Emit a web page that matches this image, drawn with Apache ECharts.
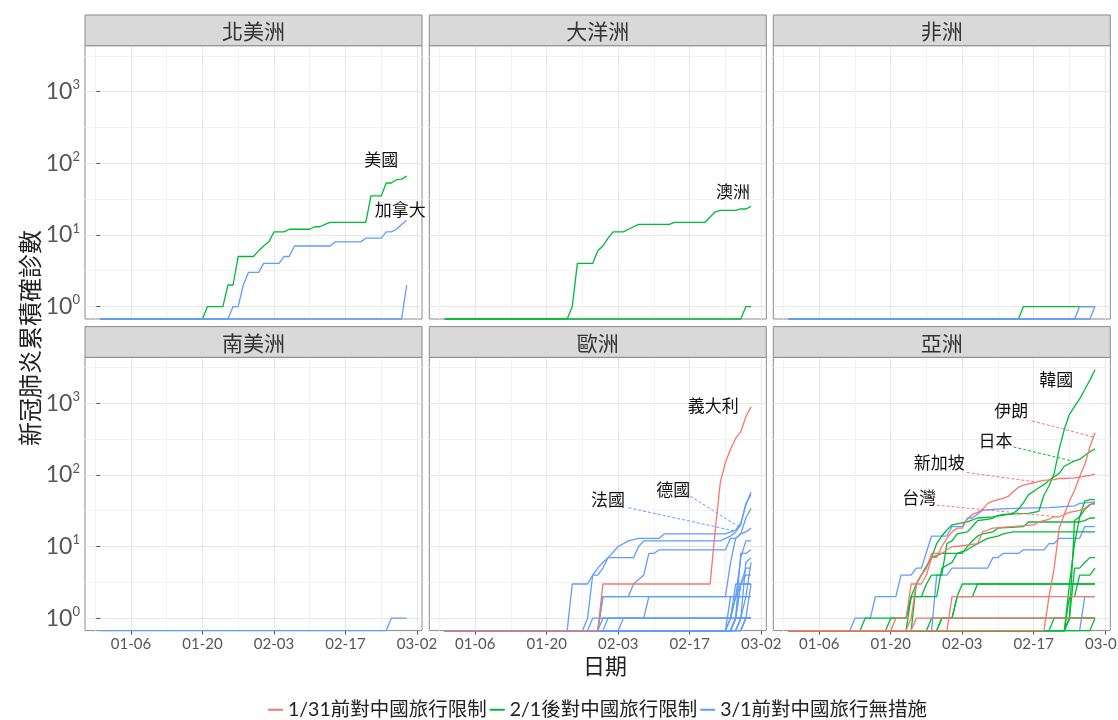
<!DOCTYPE html>
<html lang="zh-Hant">
<head>
<meta charset="utf-8">
<title>新冠肺炎累積確診數</title>
<script src="https://cdn.jsdelivr.net/npm/echarts@6.0.0/dist/echarts.min.js"></script>
<style>
  html, body { margin: 0; padding: 0; background: #fff; }
  #chart { width: 1118px; height: 720px; }
</style>
</head>
<body>
<div id="chart"></div>
<script>
// Day index: 0 = 2019-12-31 ... 60 = 2020-02-29. Points are [day, cumulative confirmed cases].
const xTickDays   = [6, 20, 34, 48, 62];
const xTickLabels = ['01-06', '01-20', '02-03', '02-17', '03-02'];
const xMinorDays  = [-1, 13, 27, 41, 55];
const yTickValues = [1, 10, 100, 1000];
const yMinorValues = [3.1623, 31.623, 316.23, 3162.3];

const regions = ['北美洲', '大洋洲', '非洲', '南美洲', '歐洲', '亞洲'];
const groups = ['1/31前對中國旅行限制', '2/1後對中國旅行限制', '3/1前對中國旅行無措施'];
const groupColors = ['#F8766D', '#00BA38', '#619CFF'];

// 北美洲
const usa = [[0,0],[20,0],[21,1],[24,1],[25,2],[26,2],[27,5],[30,5],[31,6],[32,7],[33,8],[34,11],[36,11],[37,12],[41,12],[42,13],[43,13],[44,14],[45,15],[52,15],[53,35],[55,35],[56,53],[57,53],[58,59],[59,60],[60,66]];
const canada = [[0,0],[25,0],[26,1],[27,1],[28,2],[29,3],[31,3],[32,4],[35,4],[36,5],[37,5],[38,7],[45,7],[46,8],[51,8],[52,9],[55,9],[56,11],[57,11],[58,12],[59,14],[60,16]];
const mexico = [[0,0],[59,0],[60,2]];

// 大洋洲
const australia = [[0,0],[24,0],[25,1],[26,4],[29,4],[30,6],[31,7],[32,9],[33,11],[35,11],[36,12],[37,13],[38,14],[44,14],[45,15],[51,15],[53,21],[54,22],[57,22],[58,23],[59,23],[60,25]];
const newZealand = [[0,0],[58,0],[59,1],[60,1]];

// 非洲
const egypt = [[0,0],[45,0],[46,1],[60,1]];
const algeria = [[0,0],[56,0],[57,1],[60,1]];
const nigeria = [[0,0],[59,0],[60,1]];

// 南美洲
const brazil = [[0,0],[56,0],[57,1],[60,1]];

// 歐洲
const italy = [[0,0],[30,0],[31,3],[52,3],[53,17],[54,79],[55,150],[56,229],[57,322],[58,400],[59,650],[60,888]];
const france = [[0,0],[24,0],[25,3],[28,3],[29,4],[30,5],[31,6],[32,7],[34,10],[36,12],[38,13],[42,13],[43,15],[55,15],[56,16],[57,17],[58,21],[59,38],[60,57]];
const germany = [[0,0],[27,0],[28,1],[29,4],[30,4],[31,5],[32,7],[37,7],[38,10],[39,12],[54,12],[55,13],[56,14],[57,16],[58,20],[59,40],[60,53]];
const uk = [[0,0],[30,0],[31,2],[36,2],[37,3],[39,4],[40,8],[41,8],[42,9],[55,9],[56,13],[57,13],[58,15],[59,16],[60,18]];
const spain = [[0,0],[31,0],[32,1],[39,1],[40,2],[55,2],[56,6],[57,13],[58,15],[59,25],[60,34]];
const russia = [[0,0],[30,0],[31,2],[60,2]];
const sweden = [[0,0],[30,0],[31,1],[56,1],[57,2],[58,7],[59,12],[60,12]];
const finland = [[0,0],[28,0],[29,1],[56,1],[57,2],[60,2]];
const belgium = [[0,0],[34,0],[35,1],[60,1]];
const switzerland = [[0,0],[55,0],[56,1],[57,1],[58,8],[59,8],[60,9]];
const norway = [[0,0],[56,0],[57,1],[58,1],[59,6],[60,7]];
const austria = [[0,0],[55,0],[56,2],[57,2],[58,3],[59,5],[60,5]];
const croatia = [[0,0],[55,0],[56,1],[57,3],[58,3],[59,4],[60,4]];
const greece = [[0,0],[56,0],[57,1],[58,3],[60,3]];
const netherlands = [[0,0],[57,0],[58,1],[59,2],[60,6]];
const romania = [[0,0],[56,0],[57,1],[58,3],[60,3]];
const denmark = [[0,0],[57,0],[58,1],[60,1]];
const georgia = [[0,0],[56,0],[57,1],[60,1]];
const northMacedonia = [[0,0],[56,0],[57,1],[60,1]];
const estonia = [[0,0],[57,0],[58,1],[60,1]];
const belarus = [[0,0],[58,0],[59,1],[60,1]];
const lithuania = [[0,0],[58,0],[59,1],[60,1]];
const azerbaijan = [[0,0],[58,0],[59,1],[60,3]];

// 亞洲
const korea = [[0,0],[19,0],[20,1],[23,1],[24,2],[26,2],[27,3],[28,4],[30,4],[31,11],[32,12],[33,15],[35,16],[36,19],[37,23],[39,24],[40,25],[41,27],[42,28],[47,29],[48,30],[49,31],[50,52],[51,70],[52,104],[53,230],[54,433],[55,700],[56,900],[57,1150],[58,1550],[59,2100],[60,2931]];
const japan = [[0,0],[14,0],[15,1],[23,1],[24,2],[25,3],[26,4],[28,7],[29,11],[30,14],[31,17],[32,20],[35,22],[37,25],[40,26],[43,28],[44,29],[45,33],[46,41],[47,53],[48,59],[49,66],[50,73],[51,84],[52,94],[53,105],[54,132],[55,144],[56,157],[57,164],[58,186],[59,210],[60,230]];
const singapore = [[0,0],[23,0],[24,1],[25,3],[26,3],[27,4],[28,7],[29,7],[30,10],[31,13],[32,16],[33,18],[34,18],[35,24],[36,28],[37,30],[38,33],[39,40],[40,43],[41,45],[42,47],[43,50],[44,58],[45,67],[46,72],[47,75],[48,77],[49,81],[50,84],[51,85],[52,86],[53,89],[54,89],[55,90],[56,91],[57,93],[58,96],[59,98],[60,102]];
const taiwan = [[0,0],[20,0],[21,1],[23,1],[24,3],[25,3],[26,4],[27,5],[28,8],[30,8],[31,9],[32,10],[33,10],[37,11],[38,16],[39,17],[40,18],[48,20],[49,22],[50,23],[51,24],[52,26],[53,26],[54,28],[55,30],[56,31],[57,32],[58,34],[59,39],[60,39]];
const iran = [[0,0],[50,0],[51,2],[52,5],[53,18],[54,28],[55,43],[56,61],[57,95],[58,139],[59,245],[60,388]];
const thailand = [[0,0],[12,0],[13,1],[16,1],[17,2],[21,2],[22,4],[24,4],[25,5],[26,5],[28,14],[31,14],[32,19],[34,19],[35,25],[36,25],[38,32],[40,33],[44,34],[51,35],[56,37],[57,40],[60,42]];
const uae = [[0,0],[28,0],[29,4],[31,4],[32,5],[39,5],[40,7],[41,7],[42,8],[45,8],[46,9],[50,9],[51,11],[52,11],[53,13],[57,13],[58,19],[60,19]];
const malaysia = [[0,0],[24,0],[25,3],[26,4],[28,7],[30,8],[34,8],[35,10],[36,12],[37,14],[38,15],[40,16],[41,18],[46,19],[47,22],[57,22],[58,23],[59,25],[60,25]];
const vietnam = [[0,0],[23,0],[24,2],[29,2],[30,5],[32,6],[33,8],[35,9],[36,10],[38,12],[39,13],[41,14],[42,15],[44,16],[60,16]];
const kuwait = [[0,0],[54,0],[55,3],[56,11],[57,26],[58,43],[59,45],[60,45]];
const bahrain = [[0,0],[54,0],[55,1],[56,23],[57,26],[58,33],[59,38],[60,41]];
const iraq = [[0,0],[54,0],[55,1],[56,5],[57,5],[58,6],[59,7],[60,7]];
const oman = [[0,0],[54,0],[55,2],[56,2],[57,4],[59,4],[60,5]];
const india = [[0,0],[29,0],[30,1],[32,1],[33,2],[34,3],[60,3]];
const philippines = [[0,0],[29,0],[30,1],[32,1],[33,2],[36,2],[37,3],[60,3]];
const nepal = [[0,0],[24,0],[25,1],[60,1]];
const sriLanka = [[0,0],[31,0],[32,2],[60,2]];
const cambodia = [[0,0],[27,0],[28,1],[60,1]];
const lebanon = [[0,0],[51,0],[52,1],[60,1]];
const afghanistan = [[0,0],[54,0],[55,1],[60,1]];
const qatar = [[0,0],[59,0],[60,1]];
const pakistan = [[0,0],[57,0],[58,2],[60,2]];

// [panel, travel-policy group, points]
const countries = [
  [0, 1, usa], [0, 2, canada], [0, 2, mexico],
  [1, 1, australia], [1, 1, newZealand],
  [2, 1, egypt], [2, 2, algeria], [2, 2, nigeria],
  [3, 2, brazil],
  [4, 2, france], [4, 2, germany], [4, 2, uk], [4, 2, spain], [4, 2, russia], [4, 2, sweden],
  [4, 2, finland], [4, 2, belgium], [4, 2, switzerland], [4, 2, norway], [4, 2, austria],
  [4, 2, croatia], [4, 2, greece], [4, 2, netherlands], [4, 2, romania], [4, 2, denmark],
  [4, 2, georgia], [4, 2, northMacedonia], [4, 2, estonia], [4, 2, belarus], [4, 2, lithuania],
  [4, 2, azerbaijan], [4, 0, italy],
  [5, 2, thailand], [5, 2, uae], [5, 2, pakistan],
  [5, 1, korea], [5, 1, japan], [5, 1, malaysia], [5, 1, vietnam], [5, 1, kuwait], [5, 1, bahrain],
  [5, 1, iraq], [5, 1, oman], [5, 1, india], [5, 1, philippines], [5, 1, cambodia], [5, 1, lebanon],
  [5, 1, afghanistan], [5, 1, qatar],
  [5, 0, singapore], [5, 0, taiwan], [5, 0, iran], [5, 0, nepal], [5, 0, sriLanka]
];

// Country name labels (data coordinates); optional dashed leader from `from` to the line at day `to`.
const annotations = [
  { on: usa,       text: '美國',   at: [55.0, 112] },
  { on: canada,    text: '加拿大', at: [58.75, 22.4] },
  { on: australia, text: '澳洲',   at: [56.5, 40] },
  { on: italy,     text: '義大利', at: [52.6, 938] },
  { on: germany,   text: '德國',   at: [44.8, 62.7], from: [48.1, 50.5], to: 57.7 },
  { on: france,    text: '法國',   at: [32.0, 45.4], from: [36.0, 34.8], to: 56.6 },
  { on: korea,     text: '韓國',   at: [52.4, 2168] },
  { on: iran,      text: '伊朗',   at: [43.6, 785], from: [47.7, 565], to: 59.7 },
  { on: japan,     text: '日本',   at: [40.5, 304], from: [44.05, 245], to: 55.8 },
  { on: singapore, text: '新加坡', at: [29.5, 150], from: [34.9, 108], to: 48.6 },
  { on: taiwan,    text: '台灣',   at: [25.6, 48.5], from: [29.0, 37.8], to: 52.6 }
];

// ---- scales (ggplot-style 5% expansion, log10 for counts) ----
const FONT = "Lato, 'Noto Sans CJK TC', 'Noto Sans', sans-serif";
let dayMax = 0, valMax = 1;
countries.forEach(([, , pts]) => pts.forEach(([d, v]) => { dayMax = Math.max(dayMax, d); valMax = Math.max(valMax, v); }));
const xPad = dayMax * 0.05;
const xMin = -xPad, xMax = dayMax + xPad;
const logPad = Math.log10(valMax) * 0.05;
const yMin = Math.pow(10, -logPad), yMax = Math.pow(10, Math.log10(valMax) + logPad);

// zero counts sit on the lower panel edge
const toPlot = v => (v > 0 ? v : yMin);

function valueAt(pts, day) {
  for (let i = 1; i < pts.length; i++) {
    if (day <= pts[i][0]) {
      const [d0, v0] = pts[i - 1], [d1, v1] = pts[i];
      const a = Math.log10(toPlot(v0)), b = Math.log10(toPlot(v1));
      return Math.pow(10, a + (b - a) * (day - d0) / (d1 - d0));
    }
  }
  return toPlot(pts[pts.length - 1][1]);
}

// ---- layout ----
const colLeft = [85, 429.3, 773.3];
const panelW = 337;
const rowTop = [45.7, 357.3];
const panelH = 273.3;
const stripH = 30.7;

const grids = [], xAxes = [], yAxes = [], graphics = [];
regions.forEach((name, p) => {
  const col = p % 3, row = Math.floor(p / 3);
  grids.push({
    left: colLeft[col], top: rowTop[row], width: panelW, height: panelH,
    show: true, backgroundColor: '#fff', borderColor: '#8a8a8a', borderWidth: 1,
    containLabel: false, outerBoundsMode: 'none'
  });
  const bottomRow = row === 1, leftCol = col === 0;
  xAxes.push({
    type: 'value', gridIndex: p, min: xMin, max: xMax,
    axisLine: { show: false },
    axisTick: { show: bottomRow, customValues: xTickDays, length: 4, lineStyle: { color: '#555', width: 1 } },
    axisLabel: {
      show: bottomRow, customValues: xTickDays, margin: 6,
      formatter: v => xTickLabels[xTickDays.indexOf(v)],
      color: '#555', fontSize: 15, fontFamily: FONT
    },
    splitLine: { show: true, lineStyle: { color: '#e6e6e6', width: 1 } }
  });
  xAxes.push({
    type: 'value', gridIndex: p, min: xMin, max: xMax, position: 'top',
    axisLine: { show: false }, axisLabel: { show: false },
    axisTick: { show: false, customValues: xMinorDays },
    splitLine: { show: true, lineStyle: { color: '#f2f2f2', width: 1 } }
  });
  yAxes.push({
    type: 'log', logBase: 10, gridIndex: p, min: yMin, max: yMax,
    axisLine: { show: false },
    axisTick: { show: leftCol, customValues: yTickValues, length: 4, lineStyle: { color: '#555', width: 1 } },
    axisLabel: {
      show: leftCol, customValues: yTickValues, margin: 5,
      formatter: v => '10{s|' + Math.round(Math.log10(v)) + '}',
      color: '#555', fontSize: 23, lineHeight: 26, fontFamily: FONT,
      rich: { s: { fontSize: 13, verticalAlign: 'top', color: '#555', fontFamily: FONT } }
    },
    splitLine: { show: true, lineStyle: { color: '#e6e6e6', width: 1 } }
  });
  yAxes.push({
    type: 'log', logBase: 10, gridIndex: p, min: yMin, max: yMax, position: 'right',
    axisLine: { show: false }, axisLabel: { show: false },
    axisTick: { show: false, customValues: yMinorValues },
    splitLine: { show: true, lineStyle: { color: '#f2f2f2', width: 1 } }
  });
  // facet strip
  const sx = colLeft[col], sy = rowTop[row] - stripH;
  graphics.push({
    type: 'rect', silent: true, z: 10,
    shape: { x: sx, y: sy, width: panelW, height: stripH },
    style: { fill: '#d9d9d9', stroke: '#8a8a8a', lineWidth: 1 }
  });
  graphics.push({
    type: 'text', silent: true, z: 11,
    style: { text: name, x: sx + panelW / 2, y: sy + stripH / 2 + 1, align: 'center', verticalAlign: 'middle',
             fill: '#333', font: "21px 'Noto Sans CJK TC', sans-serif" }
  });
});

graphics.push({
  type: 'text', silent: true,
  style: { text: '日期', x: 605, y: 666, align: 'center', verticalAlign: 'middle',
           fill: '#222', font: "22px 'Noto Sans CJK TC', sans-serif" }
});
graphics.push({
  type: 'text', silent: true, rotation: Math.PI / 2, x: 30, y: 338,
  style: { text: '新冠肺炎累積確診數', x: 0, y: 0, align: 'center', verticalAlign: 'middle',
           fill: '#222', font: "24px 'Noto Sans CJK TC', sans-serif" }
});

// ---- series ----
const series = countries.map(([p, g, pts], i) => ({
  type: 'line', id: 'c' + i, name: groups[g],
  xAxisIndex: 2 * p, yAxisIndex: 2 * p,
  data: pts.map(([d, v]) => [d, toPlot(v)]),
  showSymbol: false, symbol: 'none', color: groupColors[g],
  lineStyle: { width: 1.3, color: groupColors[g] },
  clip: false, silent: true, animation: false, z: 3
}));

annotations.forEach(a => {
  const idx = countries.findIndex(c => c[2] === a.on);
  const s = series[idx];
  const color = groupColors[countries[idx][1]];
  s.markPoint = {
    silent: true, animation: false, symbol: 'circle', symbolSize: 0,
    label: { show: true, position: 'inside', formatter: a.text, color: '#111', fontSize: 17,
             fontFamily: "'Noto Sans CJK TC', sans-serif" },
    data: [{ coord: a.at }]
  };
  if (a.from) {
    s.markLine = {
      silent: true, animation: false, symbol: ['none', 'none'], label: { show: false },
      lineStyle: { type: [3, 2], color: color, width: 1 },
      emphasis: { disabled: true },
      data: [[{ coord: a.from }, { coord: [a.to, valueAt(a.on, a.to)] }]]
    };
  }
});

const chart = echarts.init(document.getElementById('chart'), null, { renderer: 'canvas' });
chart.setOption({
  animation: false,
  backgroundColor: '#fff',
  textStyle: { fontFamily: FONT },
  grid: grids, xAxis: xAxes, yAxis: yAxes, series: series,
  legend: {
    data: groups, left: 268, top: 700, selectedMode: false,
    icon: 'rect', itemWidth: 15, itemHeight: 2, itemGap: 3, padding: 0,
    textStyle: { fontSize: 19.5, color: '#222', fontFamily: FONT }
  },
  graphic: graphics
});
</script>
</body>
</html>
